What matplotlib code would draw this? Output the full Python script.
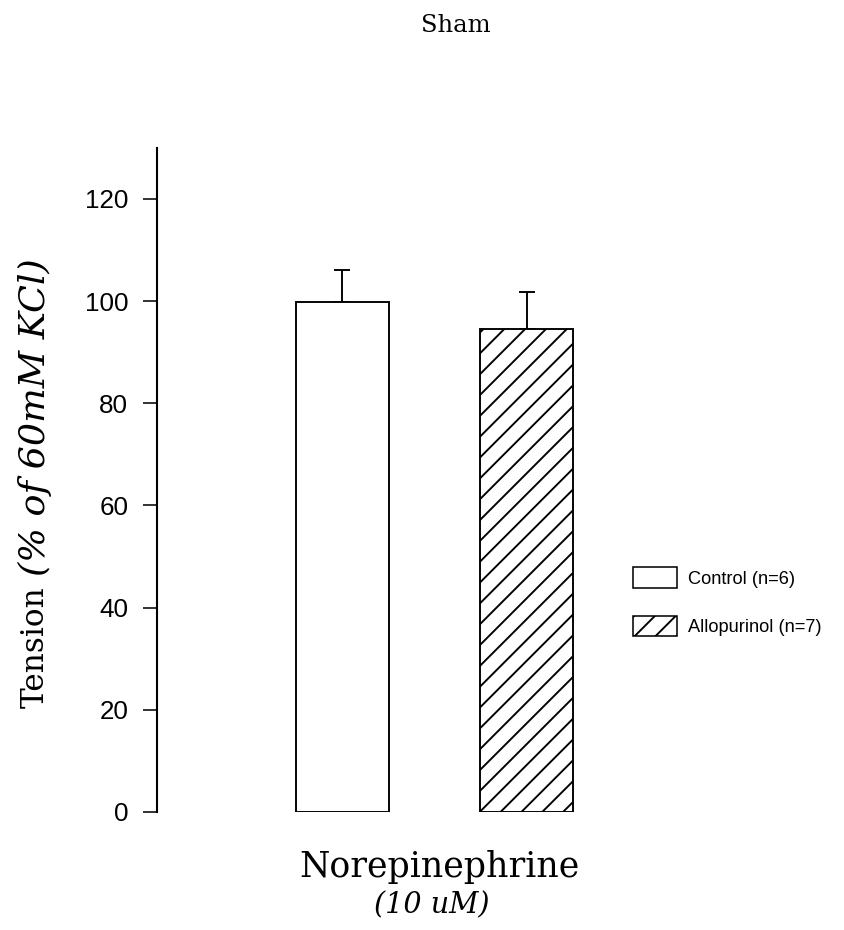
import matplotlib
matplotlib.use("Agg")
import matplotlib.pyplot as plt
from matplotlib.patches import Patch
import numpy as np

# data
groups = ["Control (n=6)", "Allopurinol (n=7)"]
tension = [99.9, 94.5]
sem = [6.2, 7.3]
hatches = ["", "//"]
yticks = [0, 20, 40, 60, 80, 100, 120]

plt.rcParams["font.family"] = ["Liberation Sans", "DejaVu Sans"]
plt.rcParams["hatch.linewidth"] = 1.1

W, H = 844, 930
fig = plt.figure(figsize=(W / 125, H / 125), dpi=125)
ax = fig.add_axes([0.186, 0.127, 0.5486, 0.714])

x = np.arange(len(groups))
bars = ax.bar(x, tension, width=0.504, color="white", edgecolor="black",
              linewidth=1.1, zorder=2)
for b, h in zip(bars, hatches):
    b.set_hatch(h)

# upper error bars only
ax.errorbar(x, tension, yerr=[np.zeros(len(sem)), sem], fmt="none",
            ecolor="black", elinewidth=1.1, capsize=4.5, capthick=1.1, zorder=1)

ax.set_xlim(-1.005, 1.504)
ax.set_ylim(0, 130)
ax.set_yticks(yticks)
ax.set_xticks([])
ax.tick_params(axis="y", direction="out", length=8, width=0.9, labelsize=15, pad=8.5)
for s in ["top", "right", "bottom"]:
    ax.spines[s].set_visible(False)
ax.spines["left"].set_linewidth(1.2)

# y label: regular part + italic part
fig.text(35 / W, 1 - 708 / H, "Tension", rotation=90, ha="center", va="bottom",
         family="DejaVu Serif", fontsize=18)
fig.text(35 / W, 1 - 576 / H, "(% of 60mM KCl)", rotation=90, ha="center",
         va="bottom", family="DejaVu Serif", style="italic", fontsize=21)

fig.text(0.54, 0.973, "Sham", ha="center", va="center",
         family="DejaVu Serif", fontsize=14)
fig.text(0.521, 0.0677, "Norepinephrine", ha="center", va="center",
         family="DejaVu Serif", fontsize=20)
fig.text(0.511, 0.027, "(10 uM)", ha="center", va="center",
         family="DejaVu Serif", style="italic", fontsize=16.5)

handles = [Patch(facecolor="white", edgecolor="black", hatch=h, linewidth=0.9)
           for h in hatches]
fig.legend(handles, groups, loc="upper left", bbox_to_anchor=(0.75, 0.39),
           frameon=False, fontsize=10.5, handlelength=2.4, handleheight=1.35,
           handletextpad=0.6, labelspacing=1.55, borderpad=0, borderaxespad=0)

fig.savefig("out.png", dpi=125)
